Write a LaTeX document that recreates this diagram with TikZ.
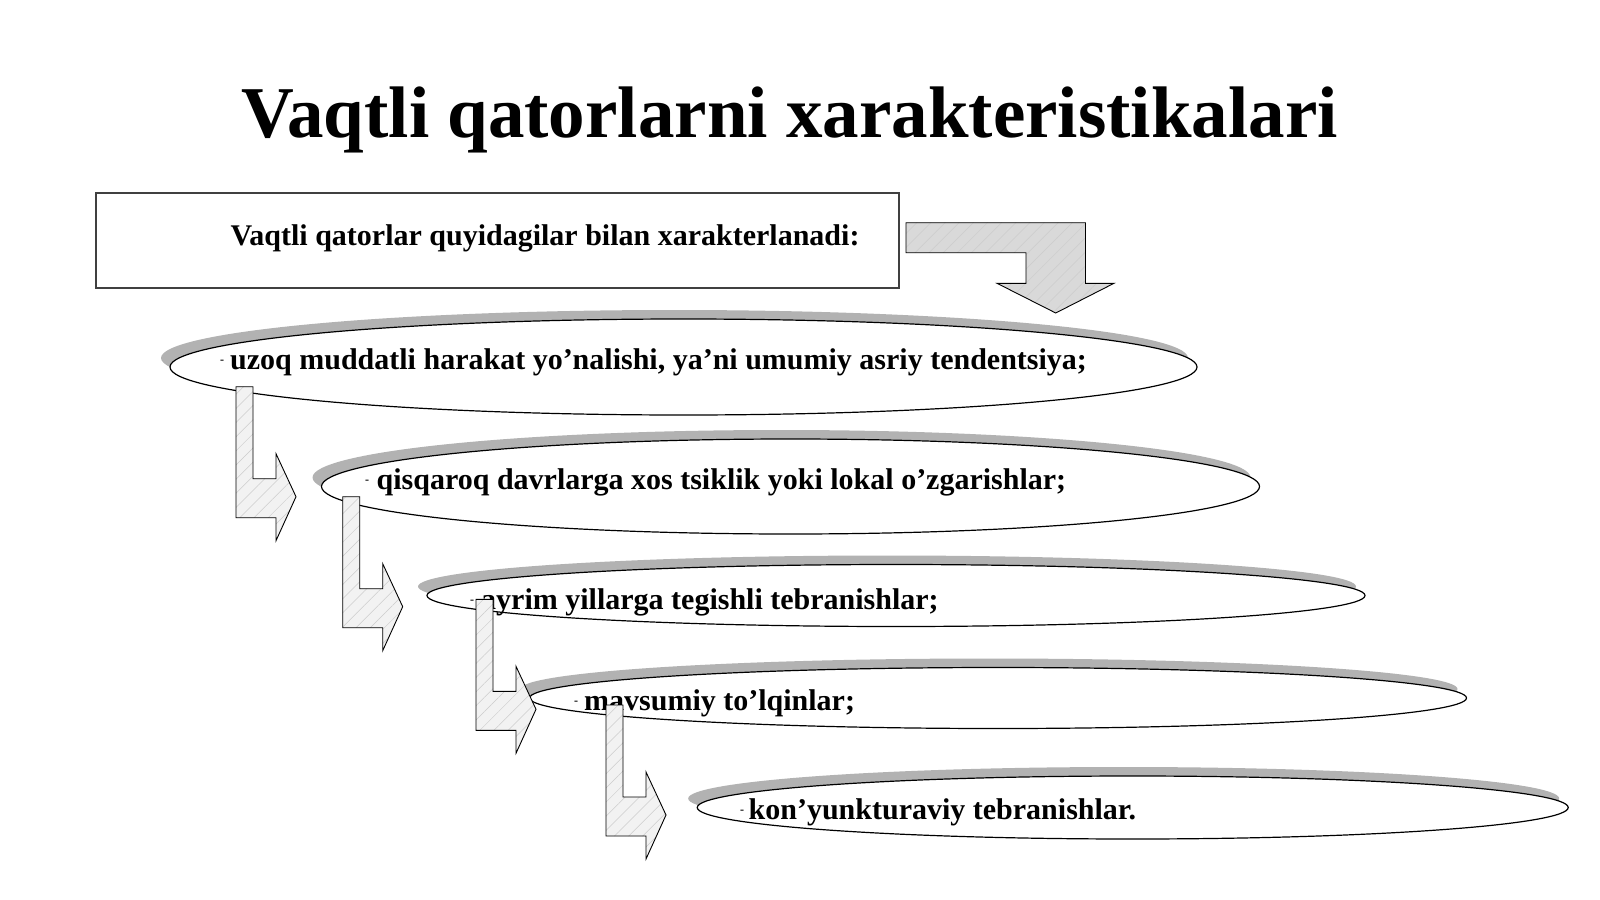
\documentclass[tikz,border=0pt]{standalone}
\usepackage{fontspec}
\setmainfont{Liberation Serif}
\usetikzlibrary{shapes.geometric,shadows,patterns.meta}
\begin{document}
\begin{tikzpicture}[x=1pt,y=-1pt,
  oval/.style={ellipse,draw=black,line width=1.2pt,fill=white,inner sep=0pt,outer sep=0pt,
    drop shadow={shadow xshift=-9pt,shadow yshift=9pt,fill=gray!60,opacity=1}},
  txt/.style={font=\bfseries\fontsize{30}{36}\selectfont,inner sep=0pt,anchor=base west},
  dashmark/.style={font=\bfseries\fontsize{12}{12}\selectfont,inner sep=0pt,anchor=center},
  hatch/.style={line width=0.9pt,draw=black,
    pattern={Lines[angle=45,distance=10pt,line width=0.5pt]},pattern color=gray!40},
  bentarrow/.pic={
    \draw[hatch,preaction={fill=gray!10}] (0,0) -- (17,0) -- (17,92) -- (40,92) -- (40,67)
      -- (60,110) -- (40,154) -- (40,131) -- (0,131) -- cycle;
  }]
\useasboundingbox (0,0) rectangle (1600,899);
\fill[white] (0,0) rectangle (1600,899);

% title
\node[font=\bfseries\fontsize{73}{80}\selectfont,anchor=base,inner sep=0pt] (title) at (789.5,137)
  {Vaqtli qatorlarni xarakteristikalari};

% top box
\node[draw=black!75,line width=1.5pt,minimum width=803pt,minimum height=95pt,
  anchor=north west,inner sep=0pt] (box) at (95,192) {};
\node[font=\bfseries\fontsize{30}{36}\selectfont,anchor=base,inner sep=0pt] (boxtext) at (545,245)
  {Vaqtli qatorlar quyidagilar bilan xarakterlanadi:};

% top bent arrow
\draw[hatch,preaction={fill=gray!30}] (906,222.7) -- (1085.5,222.7) -- (1085.5,283.3) -- (1114,283.3)
  -- (1055.7,313) -- (997,283.3) -- (1026,283.3) -- (1026,252.7) -- (906,252.7) -- cycle;

% ellipses
\node[oval,minimum width=1027pt,minimum height=96pt] (e1) at (683.5,367) {};
\node[oval,minimum width=938pt,minimum height=95pt] (e2) at (790.5,486.5) {};
\node[oval,minimum width=938pt,minimum height=62pt] (e3) at (896,595.5) {};
\node[oval,minimum width=937pt,minimum height=61pt] (e4) at (998,698) {};
\node[oval,minimum width=871pt,minimum height=63pt] (e5) at (1132.7,807.5) {};

% texts
\node[dashmark] (d1) at (222,362) {-};
\node[txt] (t1) at (230,369) {uzoq muddatli harakat yo’nalishi, ya’ni umumiy asriy tendentsiya;};
\node[dashmark] (d2) at (367,482) {-};
\node[txt] (t2) at (376.5,489) {qisqaroq davrlarga xos tsiklik yoki lokal o’zgarishlar;};
\node[dashmark] (d3) at (472,602) {-};
\node[txt] (t3) at (481,609) {ayrim yillarga tegishli tebranishlar;};
\node[dashmark] (d4) at (576,703) {-};
\node[txt] (t4) at (584,710) {mavsumiy to’lqinlar;};
\node[dashmark] (d5) at (742,812) {-};
\node[txt] (t5) at (748.5,819) {kon’yunkturaviy tebranishlar.};

% bent arrows
\pic at (236,386.7) {bentarrow};
\pic at (342.7,496.7) {bentarrow};
\pic at (476,599.3) {bentarrow};
\pic at (606,705) {bentarrow};
\end{tikzpicture}
\end{document}
